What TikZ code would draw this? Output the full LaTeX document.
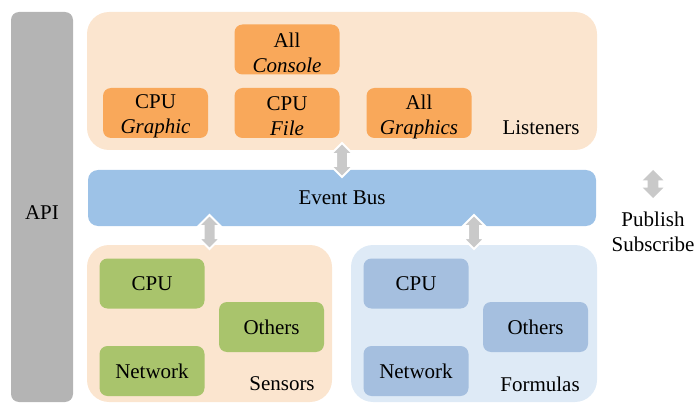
\documentclass[tikz,border=0pt]{standalone}
\usepackage{fontspec}
\setmainfont{Liberation Serif}
\usetikzlibrary{shapes.arrows, calc, positioning}
\definecolor{apigray}{HTML}{B4B4B4}
\definecolor{lisbg}{HTML}{FBE5CF}
\definecolor{lisbox}{HTML}{F9A85A}
\definecolor{busblue}{HTML}{9DC2E7}
\definecolor{senbox}{HTML}{A9C46C}
\definecolor{forbg}{HTML}{DEEAF6}
\definecolor{forbox}{HTML}{A5BFDF}
\definecolor{arrgray}{HTML}{C9C9C9}
\tikzstyle{panel}=[rounded corners=16.5pt,inner sep=0pt]
\tikzstyle{box}=[rounded corners=6pt,minimum width=78.75pt,minimum height=37.5pt,inner sep=0pt,align=center]
\tikzstyle{updown}=[double arrow,rotate=90,inner sep=3.75pt,double arrow head extend=3.75pt,fill=arrgray]
\tikzstyle{busarr}=[updown,draw=white,line width=1.5pt,minimum height=25.5pt]

\begin{document}
\begin{tikzpicture}[x=0.75pt,y=-0.75pt,font=\fontsize{15.75}{18.75}\selectfont]
    \useasboundingbox (0,0) rectangle (697,403);
    % api and bus
    \node[fill=apigray,rounded corners=6pt,minimum width=46.5pt,minimum height=292.5pt,
        label={[yshift=-4.5pt]center:API}] (api) at (42,207) {};
    \node[fill=busblue,rounded corners=7.5pt,minimum width=381pt,minimum height=42pt] (bus) at (342,198) {Event Bus};
    % panels
    \node[panel,fill=lisbg,minimum width=382.5pt,minimum height=103.5pt] (lis) at (342,81) {};
    \node[panel,fill=lisbg,minimum width=183.75pt,minimum height=117.75pt] (sen) at (209.5,323.5) {};
    \node[panel,fill=forbg,minimum width=184.5pt,minimum height=117.75pt] (for) at (474,323.5) {};
    \node (lislbl) at (541,128) {Listeners};
    \node (senlbl) at (282,384) {Sensors};
    \node (forlbl) at (540,384) {Formulas};
    % arrows
    \node[busarr] (a1) at ($(lis.south)!0.5!(bus.north)$) {};
    \node[busarr,xshift=2.6pt] (a2) at ($(bus.south -| sen.north)!0.5!(sen.north)$) {};
    \node[busarr,xshift=2.6pt] (a3) at ($(bus.south -| for.north)!0.5!(for.north)$) {};
    % listeners
    \foreach \p/\n/\t in {{287,49.5}/lcon/{All\\\textit{Console}}, {155.5,113}/lgra/{CPU\\\textit{Graphic}},
        {287,113}/lfil/{CPU\\\textit{File}}, {419,113}/lall/{All\\\textit{Graphics}}}
        \node[box,fill=lisbox,label={[align=center,yshift=-2.6pt]center:{\t}}] (\n) at (\p) {};
    % sensors and formulas
    \foreach \x/\s/\c in {0/s/senbox, 264/f/forbox} {
        \node[box,fill=\c] (\s cpu) at (152+\x,283.5) {CPU};
        \node[box,fill=\c] (\s oth) at (271.5+\x,327) {Others};
        \node[box,fill=\c] (\s net) at (152+\x,371) {Network};
    }
    % legend
    \node[updown,minimum height=21pt] (leg) at (653,184) {};
    \node[align=center,inner sep=0pt] (pubsub) at (653,232) {Publish\\Subscribe};
\end{tikzpicture}
\end{document}
